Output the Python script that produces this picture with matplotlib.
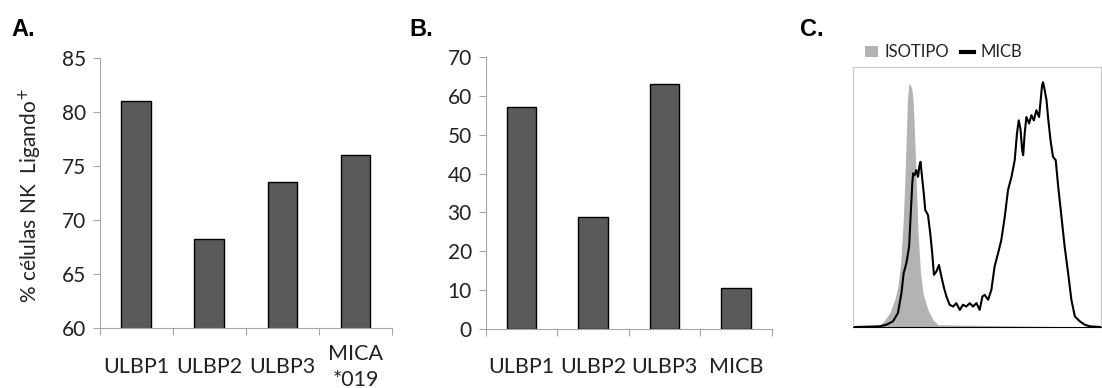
import numpy as np
import matplotlib.pyplot as plt
from matplotlib.patches import Patch
from matplotlib.lines import Line2D

plt.rcParams['font.family'] = ['Lato', 'DejaVu Sans']

# panel A
cats_a = ['ULBP1', 'ULBP2', 'ULBP3', 'MICA\n*019']
vals_a = [81.0, 68.2, 73.5, 76.0]

# panel B
cats_b = ['ULBP1', 'ULBP2', 'ULBP3', 'MICB']
vals_b = [57.2, 28.9, 63.0, 10.6]

# panel C: histogram traces (channel 0-1000, counts 0-100)
micb_x = [0, 107, 134, 161, 181, 195, 204, 215, 226, 232, 238, 242, 248, 255, 262,
          268, 272, 278, 285, 291, 302, 311, 319, 326, 336, 346, 356, 365, 376, 389,
          403, 416, 430, 443, 456, 470, 483, 497, 510, 521, 530, 544, 557, 570, 584,
          597, 611, 624, 638, 651, 660, 667, 674, 681, 685, 691, 698, 709, 718, 728,
          738, 749, 754, 761, 765, 772, 779, 785, 795, 805, 816, 826, 839, 852, 866,
          879, 893, 913, 933, 953, 1000]
micb_y = [0, 0.3, 0.9, 2.2, 5.4, 13.0, 20.7, 24.6, 30.9, 42.5, 54.0, 59.1, 58.4, 60.4, 57.8,
          62.3, 63.6, 57.8, 51.4, 45.0, 43.1, 36.1, 28.4, 20.1, 21.4, 23.9, 19.4, 15.6, 11.8, 8.6,
          7.9, 9.2, 6.6, 8.6, 7.9, 9.2, 7.9, 9.2, 6.6, 11.8, 12.4, 10.5, 14.3, 23.3, 28.4,
          33.5, 42.5, 52.7, 57.8, 64.2, 74.4, 79.5, 76.3, 68.0, 66.1, 74.4, 80.8, 78.3, 81.5, 79.5,
          83.4, 80.8, 85.9, 93.0, 94.2, 91.0, 87.2, 80.8, 71.9, 65.5, 64.2, 54.0, 42.5, 30.9, 20.7,
          10.5, 4.1, 2.2, 0.9, 0.3, 0]
iso_x = [0, 107, 128, 148, 168, 181, 192, 201, 208, 215, 219, 225, 231, 237, 242,
         248, 255, 262, 272, 282, 302, 322, 342, 1000]
iso_y = [0, 0.3, 2.8, 5.4, 10.5, 15.6, 24.6, 38.6, 54.0, 74.4, 87.2, 93.6, 93.0, 91.7, 87.2,
         74.4, 55.2, 36.1, 20.7, 13.0, 6.6, 2.8, 0.9, 0]

BAR = '#5a5a5a'
SPINE = '#a6a6a6'
TXT = '#222222'

fig = plt.figure(figsize=(11.02, 3.88), dpi=100)


def bar_panel(rect, cats, vals, ylim, step, pad):
    ax = fig.add_axes(rect)
    x = np.arange(len(cats))
    ax.bar(x, vals, width=0.41, color=BAR, edgecolor='black', linewidth=1.0)
    ax.set_xlim(-0.5, len(cats) - 0.5)
    ax.set_ylim(*ylim)
    ax.set_yticks(np.arange(ylim[0], ylim[1] + 0.1, step))
    ax.set_xticks(np.arange(len(cats) + 1) - 0.5)
    ax.set_xticklabels([])
    ax.set_xticks(x, minor=True)
    ax.set_xticklabels(cats, minor=True, fontsize=15.5, color=TXT)
    for lab in ax.get_xticklabels(minor=True):
        lab.set_verticalalignment('center')
        lab.set_linespacing(1.4)
    ax.tick_params(axis='x', which='minor', length=0, pad=pad)
    ax.tick_params(axis='x', which='major', length=5, color=SPINE, direction='out')
    ax.tick_params(axis='y', length=5, color=SPINE, labelsize=15, labelcolor=TXT, pad=5)
    for s in ['top', 'right']:
        ax.spines[s].set_visible(False)
    for s in ['left', 'bottom']:
        ax.spines[s].set_color(SPINE)
    return ax


ax_a = bar_panel([0.0907, 0.1546, 0.265, 0.696], cats_a, vals_a, (60, 85), 5, 28)
ax_a.set_ylabel('% células NK  Ligando$^{+}$', fontsize=15, color=TXT)
ax_a.yaxis.set_label_coords(-0.19, 0.49)

ax_b = bar_panel([0.4407, 0.152, 0.2598, 0.701], cats_b, vals_b, (0, 70), 10, 27)

ax_c = fig.add_axes([0.774, 0.157, 0.2255, 0.670])
ax_c.fill_between(iso_x, iso_y, color='#b3b3b3', linewidth=0)
ax_c.plot(micb_x, micb_y, color='black', linewidth=1.5)
ax_c.set_xlim(0, 1000)
ax_c.set_ylim(0, 100)
ax_c.set_xticks([])
ax_c.set_yticks([])
for s in ax_c.spines.values():
    s.set_color('#c8c8c8')
ax_c.spines['bottom'].set_color('black')
handles = [Patch(facecolor='#b3b3b3', edgecolor='none'),
           Line2D([], [], color='black', linewidth=3)]
ax_c.legend(handles, ['ISOTIPO', 'MICB'], ncol=2, frameon=False, fontsize=12,
            handlelength=0.8, handletextpad=0.4, columnspacing=0.7,
            loc='lower left', bbox_to_anchor=(0.02, 1.0), borderaxespad=0,
            labelcolor=TXT)

for x0, lab in [(11, 'A.'), (409, 'B.'), (800, 'C.')]:
    fig.text(x0 / 1102, 1 - 36 / 388, lab, fontsize=17, fontweight='bold',
             family='Liberation Sans', va='baseline')

fig.savefig('out.png', dpi=100)
